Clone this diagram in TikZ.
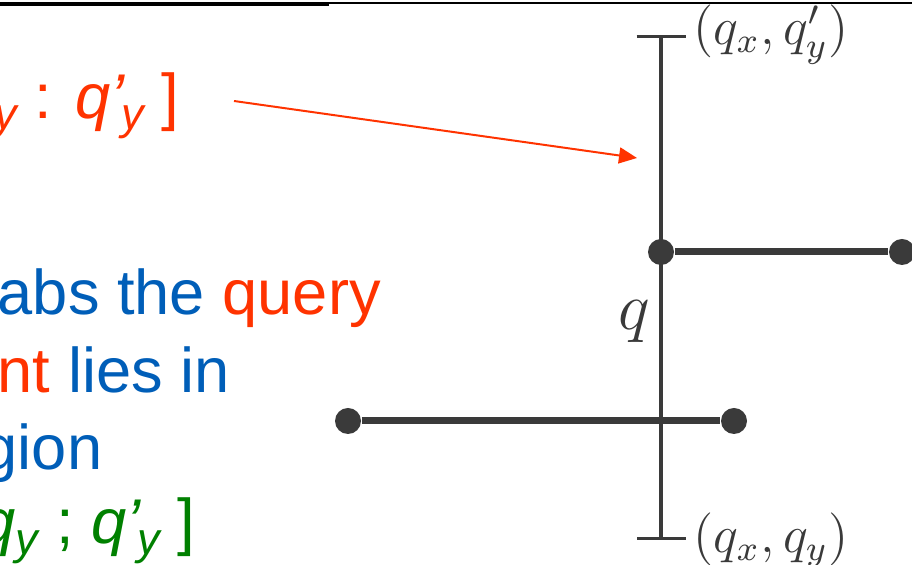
\documentclass[tikz,border=0pt]{standalone}
\usepackage{fontspec}
\usepackage{xcolor}
\usepackage{tikz}
\usetikzlibrary{
  arrows.meta,
  positioning
}
\newfontfamily\slidefont{Liberation Sans}
\definecolor{slideblue}{RGB}{0, 94, 184}
\definecolor{queryred}{RGB}{255, 51, 0}
\definecolor{rangegreen}{RGB}{0, 128, 0}
\definecolor{segdark}{RGB}{58, 58, 58}
\newcommand{\subidx}[1]{\raisebox{-2.75pt}{\fontsize{11.25}{13}\selectfont\itshape #1}}
\tikzset{
  slidetxt/.style = {
    anchor=base west, inner sep=0pt, text=#1,
    font=\slidefont\fontsize{15.8}{19}\selectfont
  },
  slidetxt/.default = slideblue,
  endpt/.style = {circle, fill=segdark, inner sep=0pt, minimum size=6.5pt},
  seg/.style = {draw=segdark, line width=1.75pt},
  qline/.style = {
    draw=segdark, line width=0.8pt,
    {Bar[width=12.25pt]}-{Bar[width=12.25pt]}
  },
  qlbl/.style = {
    inner sep=0pt, text=segdark,
    font=\fontsize{12}{14}\selectfont, scale=#1
  },
  qlbl/.default = 1.1,
  arrred/.style = {-{Triangle[length=4.5pt, width=4pt]}, draw=queryred, line width=0.5pt},
}

\begin{document}
\begin{tikzpicture}[x=0.25pt, y=-0.25pt]
  \useasboundingbox (0,0) rectangle (912,565);

  % slide rule at the top
  \draw[line width=1pt] (0,4) -- (329,4);
  \draw[line width=0.5pt] (329,3) -- (912,3);

  % slide text (left, cut by the frame)
  \node[slidetxt=queryred] (rngtxt) at (-6,119)
    {\subidx{y} : \textit{q’}\kern-1pt\subidx{y} ]};
  \node[slidetxt] (stabtxt) at (-3,315) {abs the \textcolor{queryred}{query}};
  \node[slidetxt] (liestxt) at (-3,393) {\textcolor{queryred}{nt} lies in};
  \node[slidetxt] (regtxt) at (-18,470) {gion};
  \node[slidetxt=rangegreen] (intvtxt) at (-20,544)
    {\textit{q}\subidx{y} ; \textit{q’}\kern-1pt\subidx{y} ]};

  % horizontal segments
  \node[endpt] (s1a) at (661,252) {};
  \node[endpt] (s1b) at (902,252) {};
  \node[endpt] (s2a) at (348,421) {};
  \node[endpt] (s2b) at (734,421) {};
  \draw[seg] (s1a) -- (s1b);
  \draw[seg] (s2a) -- (s2b);

  % query segment
  \coordinate (qbot) at (661,540);
  \coordinate (qtop) at (661,35);
  \draw[qline] (qbot) -- (qtop);
  \node[qlbl, right=8pt of qtop] (qtoplbl) {$(q_x, q'_y)$};
  \node[qlbl, right=8pt of qbot] (qbotlbl) {$(q_x, q_y)$};
  \node[qlbl=1.4] (qname) at (634,322) {$q$};

  % pointer from the range to the query segment
  \coordinate (arrfrom) at (234,101);
  \coordinate (arrto) at (637,158);
  \draw[arrred] (arrfrom) -- (arrto);

\end{tikzpicture}
\end{document}
